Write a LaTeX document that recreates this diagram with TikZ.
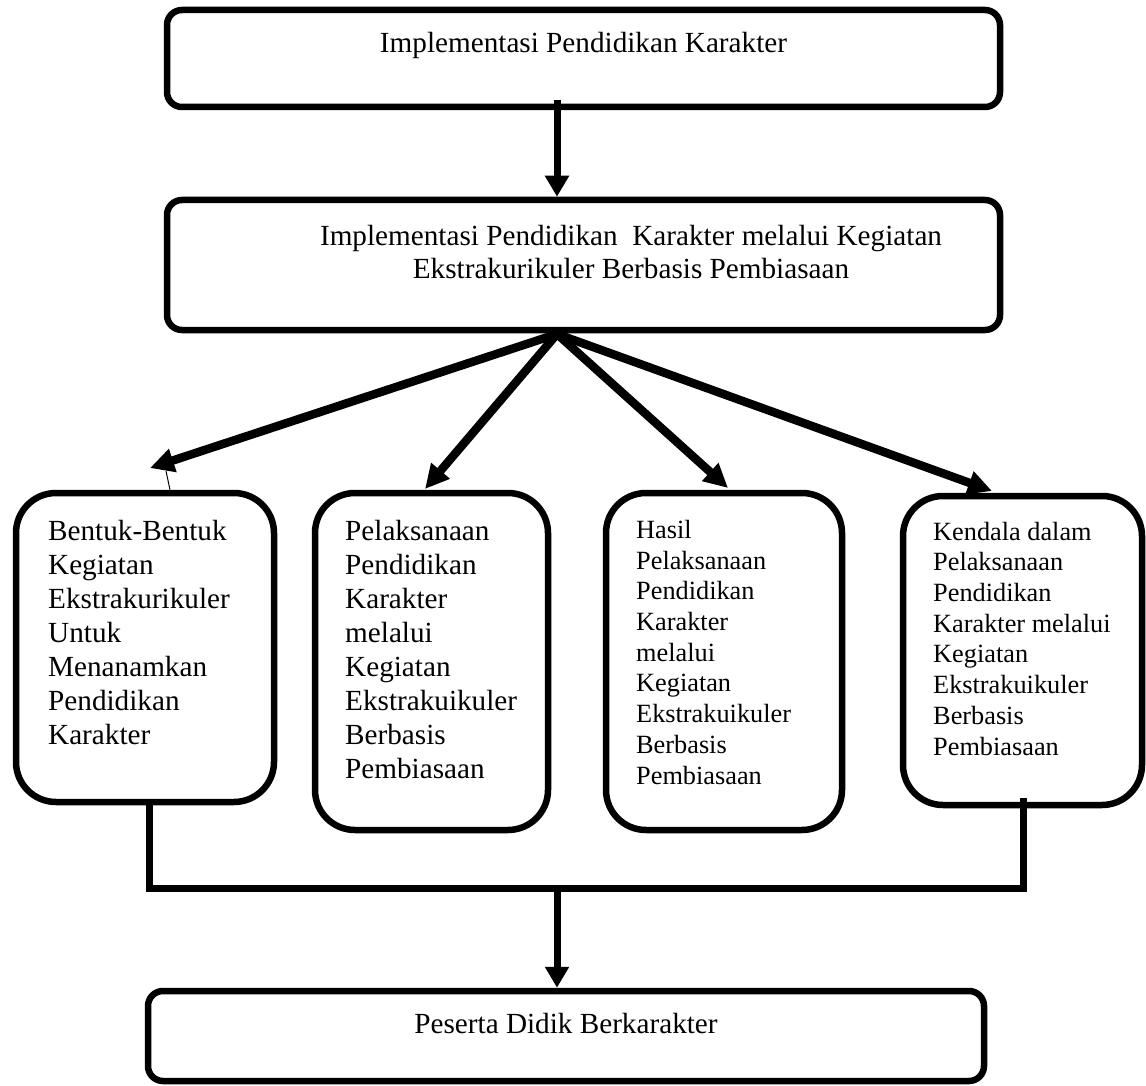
\documentclass[tikz,border=0pt]{standalone}
\usepackage{fontspec}
\setmainfont{Liberation Serif}
\usetikzlibrary{arrows.meta,calc,positioning}
\definecolor{flowink}{RGB}{0,0,0}

\begin{document}
\begin{tikzpicture}[x=1pt,y=-1pt,flowink,
 bigbox/.style={draw,line width=6.5pt,rounded corners=15pt,inner sep=0pt},
 smallbox/.style={draw,line width=6.5pt,rounded corners=40pt,inner sep=0pt},
 headtext/.style={font=\fontsize{29.2}{33}\selectfont,inner sep=0pt},
 listbig/.style={font=\fontsize{29.2}{34}\selectfont,align=left,anchor=north west,inner sep=0pt},
 listsmall/.style={font=\fontsize{26.3}{30.7}\selectfont,align=left,anchor=north west,inner sep=0pt},
 down/.style={-{Triangle[length=21pt,width=23pt]},line width=7pt},
 fan/.style={-{Triangle[length=24pt,width=23pt]},line width=8.5pt},
 link/.style={line width=7pt}]
\useasboundingbox (0,0) rectangle (1146,1086);
\node[bigbox,minimum width=833pt,minimum height=97pt] (top) at (583.5,58.5) {};
\node[bigbox,minimum width=833pt,minimum height=130pt] (mid) at (583.5,265) {};
\node[smallbox,minimum width=258pt,minimum height=309pt] (b1) at (145,647.5) {};
\node[smallbox,minimum width=233pt,minimum height=337pt] (b2) at (431.5,661.5) {};
\node[smallbox,minimum width=236pt,minimum height=337pt] (b3) at (724,661.5) {};
\node[smallbox,minimum width=239pt,minimum height=309pt] (b4) at (1022.5,650.5) {};
\node[bigbox,minimum width=836pt,minimum height=90pt] (bot) at (566,1036) {};
\node[headtext,anchor=base] (toptxt) at (583.5,53) {Implementasi Pendidikan Karakter};
\node[headtext,align=center,anchor=north] (midtxt) at (631,221.9)
 {\strut Implementasi Pendidikan\ \ Karakter melalui Kegiatan\\Ekstrakurikuler Berbasis Pembiasaan};
\node[listbig] (t1) at (48,516.2) {\strut Bentuk-Bentuk\\Kegiatan\\Ekstrakurikuler\\Untuk\\Menanamkan\\Pendidikan\\Karakter};
\node[listbig] (t2) at (345,516.2) {\strut Pelaksanaan\\Pendidikan\\Karakter\\melalui\\Kegiatan\\Ekstrakuikuler\\Berbasis\\Pembiasaan};
\node[listsmall] (t3) at (636,516.8) {\strut Hasil\\Pelaksanaan\\Pendidikan\\Karakter\\melalui\\Kegiatan\\Ekstrakuikuler\\Berbasis\\Pembiasaan};
\node[listsmall] (t4) at (933,518.5) {\strut Kendala dalam\\Pelaksanaan\\Pendidikan\\Karakter melalui\\Kegiatan\\Ekstrakuikuler\\Berbasis\\Pembiasaan};
\node[headtext,anchor=base] (bottxt) at (566,1033) {Peserta Didik Berkarakter};
\coordinate (s0) at (557,100);
\draw[down] (s0) -- (s0 |- mid.north);
\coordinate (f0) at (557,334);
\coordinate (a1) at (150,468);
\coordinate (a2) at (425,489);
\coordinate (a3) at (728,488);
\coordinate (a4) at (992,491);
\foreach \i in {1,...,4}
 \draw[fan] (f0) -- (a\i);
\coordinate (stray) at (166,471);
\draw[line width=1pt] ($(b1.north)+(25,0)$) -- (stray);
\coordinate (jm) at (557,888);
\coordinate (r4) at (1023,798);
\draw[link] ($(b1.south)+(4,0)$) |- (jm) -| (r4);
\draw[down] (jm) -- (jm |- bot.north);
\end{tikzpicture}
\end{document}
